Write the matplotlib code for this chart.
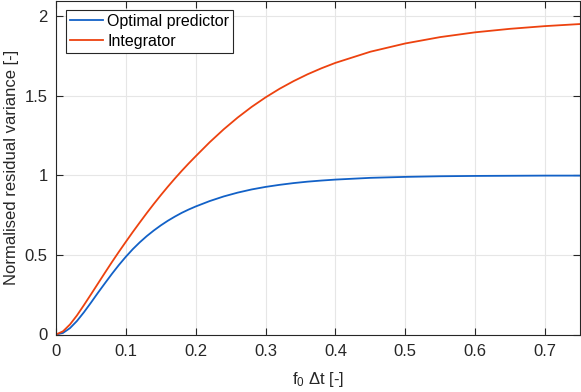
import matplotlib
matplotlib.use("Agg")
import matplotlib.pyplot as plt

plt.rcParams['font.family'] = ['Liberation Sans', 'DejaVu Sans']
plt.rcParams['mathtext.fontset'] = 'custom'
plt.rcParams['mathtext.rm'] = 'Liberation Sans'
plt.rcParams['mathtext.it'] = 'Liberation Sans'

x = [0.00, 0.01, 0.02, 0.03, 0.04, 0.05, 0.06, 0.07, 0.08, 0.09, 0.10,
     0.11, 0.12, 0.13, 0.14, 0.15, 0.16, 0.17, 0.18, 0.19, 0.20,
     0.22, 0.24, 0.26, 0.28, 0.30, 0.32, 0.34, 0.36, 0.38, 0.40,
     0.45, 0.50, 0.55, 0.60, 0.65, 0.70, 0.75]
optimal = [0.000, 0.010, 0.040, 0.085, 0.140, 0.200, 0.262, 0.322, 0.381, 0.437, 0.489,
           0.537, 0.580, 0.619, 0.654, 0.686, 0.715, 0.741, 0.765, 0.786, 0.805,
           0.839, 0.868, 0.892, 0.912, 0.928, 0.941, 0.952, 0.961, 0.968, 0.974,
           0.985, 0.991, 0.995, 0.997, 0.998, 0.999, 0.999]
integrator = [0.000, 0.020, 0.063, 0.120, 0.185, 0.252, 0.320, 0.388, 0.455, 0.520, 0.583,
              0.645, 0.705, 0.764, 0.821, 0.876, 0.929, 0.980, 1.029, 1.076, 1.121,
              1.209, 1.290, 1.364, 1.431, 1.491, 1.545, 1.593, 1.636, 1.674, 1.708,
              1.778, 1.830, 1.870, 1.900, 1.922, 1.939, 1.952]
series_names = ["Optimal predictor", "Integrator"]
xticks = [0, 0.1, 0.2, 0.3, 0.4, 0.5, 0.6, 0.7]
xticklabels = ["0", "0.1", "0.2", "0.3", "0.4", "0.5", "0.6", "0.7"]
yticks = [0, 0.5, 1, 1.5, 2]
yticklabels = ["0", "0.5", "1", "1.5", "2"]

W, H = 581, 392
fig = plt.figure(figsize=(W / 100, H / 100), dpi=100)
ax = fig.add_axes([56 / W, (H - 334.5) / H, 524 / W, 334 / H])

ax.plot(x, optimal, color=(0.07, 0.38, 0.78), lw=1.3, label=series_names[0])
ax.plot(x, integrator, color=(0.93, 0.26, 0.06), lw=1.3, label=series_names[1])

ax.set_xlim(0, 0.75)
ax.set_ylim(0, 2.1)
ax.set_xticks(xticks)
ax.set_xticklabels(xticklabels)
ax.set_yticks(yticks)
ax.set_yticklabels(yticklabels)

axc = (0.15, 0.15, 0.15)
for s in ax.spines.values():
    s.set_color(axc)
    s.set_linewidth(0.8)
ax.tick_params(direction='in', length=5, width=0.8, color=axc, labelcolor=axc,
               labelsize=12, top=True, right=True)
ax.tick_params(axis='x', pad=7)
ax.tick_params(axis='y', pad=6)
ax.grid(True, color=(0.9, 0.9, 0.9), lw=0.8)
ax.set_axisbelow(True)

ax.set_xlabel(r'f$_\mathrm{0}$ Δt [-]', fontsize=12, color=axc, labelpad=8)
ax.set_ylabel('Normalised residual variance [-]', fontsize=12, color=axc, labelpad=4)

leg = ax.legend(loc='upper left', fontsize=11.5, frameon=True, fancybox=False,
                edgecolor=axc, framealpha=1, borderpad=0.25, labelspacing=0.3,
                handlelength=2.1, handletextpad=0.25, borderaxespad=0.6)
leg.get_frame().set_linewidth(0.8)

fig.savefig("out.png", dpi=100)
